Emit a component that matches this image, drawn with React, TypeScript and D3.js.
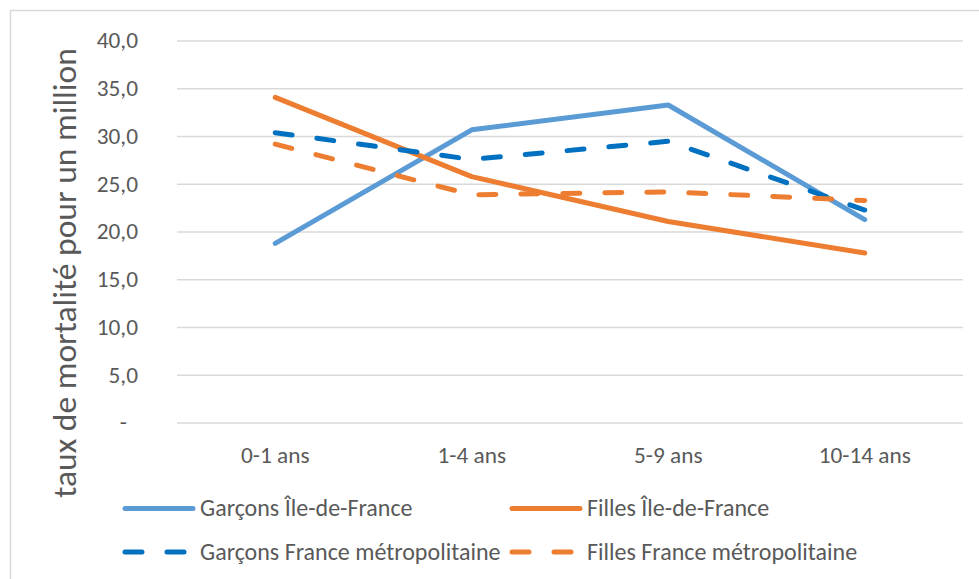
import React from "react";
import * as d3 from "d3";

const categories = ["0-1 ans", "1-4 ans", "5-9 ans", "10-14 ans"];
const garconsIdf = [18.8, 30.7, 33.3, 21.3];
const fillesIdf = [34.1, 25.8, 21.1, 17.8];
const garconsFrance = [30.4, 27.6, 29.5, 22.3];
const fillesFrance = [29.2, 23.9, 24.2, 23.3];
const yTicks = [0, 5, 10, 15, 20, 25, 30, 35, 40];
const seriesNames = [
  "Garçons Île-de-France",
  "Filles Île-de-France",
  "Garçons France métropolitaine",
  "Filles France métropolitaine",
];
const yTitle = "taux de mortalité pour un million";

const W = 979;
const H = 579;
const FONT = "Carlito, Lato, 'Open Sans', sans-serif";
const TEXT = "#595959";

export default function App() {
  const plotLeft = 177;
  const plotRight = 963;
  const x = d3.scaleBand<string>().domain(categories).range([plotLeft, plotRight]);
  const y = d3.scaleLinear().domain([0, 40]).range([423, 41]);
  const cx = (c: string) => (x(c) ?? 0) + x.bandwidth() / 2;

  const line = d3
    .line<number>()
    .x((_, i) => cx(categories[i]))
    .y((v) => y(v));

  const dash = "17,25";
  const series = [
    { name: seriesNames[0], values: garconsIdf, color: "#5B9BD5", dash: null },
    { name: seriesNames[1], values: fillesIdf, color: "#ED7D31", dash: null },
    { name: seriesNames[2], values: garconsFrance, color: "#0070C0", dash },
    { name: seriesNames[3], values: fillesFrance, color: "#ED7D31", dash },
  ];

  const fmt = (v: number) => (v === 0 ? "-" : d3.format(".1f")(v).replace(".", ","));

  const legendPos = [
    { lx: 125, ly: 508.5 },
    { lx: 512, ly: 508.5 },
    { lx: 125, ly: 552 },
    { lx: 512, ly: 552 },
  ];

  return (
    <svg
      width={W}
      height={H}
      style={{ position: "absolute", left: 0, top: 0, background: "#fff" }}
      fontFamily={FONT}
    >
      <rect x={10.5} y={10.5} width={W} height={H} fill="#fff" stroke="#d9d9d9" strokeWidth={1.5} />
      {yTicks.map((t) => (
        <g key={t}>
          <line x1={plotLeft} x2={plotRight} y1={y(t)} y2={y(t)} stroke="#d9d9d9" strokeWidth={1.5} />
          <text
            x={t === 0 ? 127 : 138}
            y={y(t)}
            dy="0.32em"
            textAnchor="end"
            fontSize={23.3}
            fill={TEXT}
          >
            {fmt(t)}
          </text>
        </g>
      ))}
      {categories.map((c) => (
        <text key={c} x={cx(c)} y={463} textAnchor="middle" fontSize={23.3} fill={TEXT}>
          {c}
        </text>
      ))}
      <text
        transform={`translate(76,273) rotate(-90)`}
        textAnchor="middle"
        fontSize={33.5}
        fill={TEXT}
      >
        {yTitle}
      </text>
      {series.map((s) => (
        <path
          key={s.name}
          d={line(s.values) ?? ""}
          fill="none"
          stroke={s.color}
          strokeWidth={5}
          strokeLinecap="round"
          strokeLinejoin="round"
          strokeDasharray={s.dash ?? undefined}
        />
      ))}
      {series.map((s, i) => {
        const { lx, ly } = legendPos[i];
        return (
          <g key={"lg" + s.name}>
            <line
              x1={lx}
              x2={lx + 68}
              y1={ly}
              y2={ly}
              stroke={s.color}
              strokeWidth={5}
              strokeLinecap="round"
              strokeDasharray={s.dash ?? undefined}
            />
            <text x={lx + 75} y={ly} dy="0.32em" fontSize={24} fill={TEXT}>
              {s.name}
            </text>
          </g>
        );
      })}
    </svg>
  );
}
